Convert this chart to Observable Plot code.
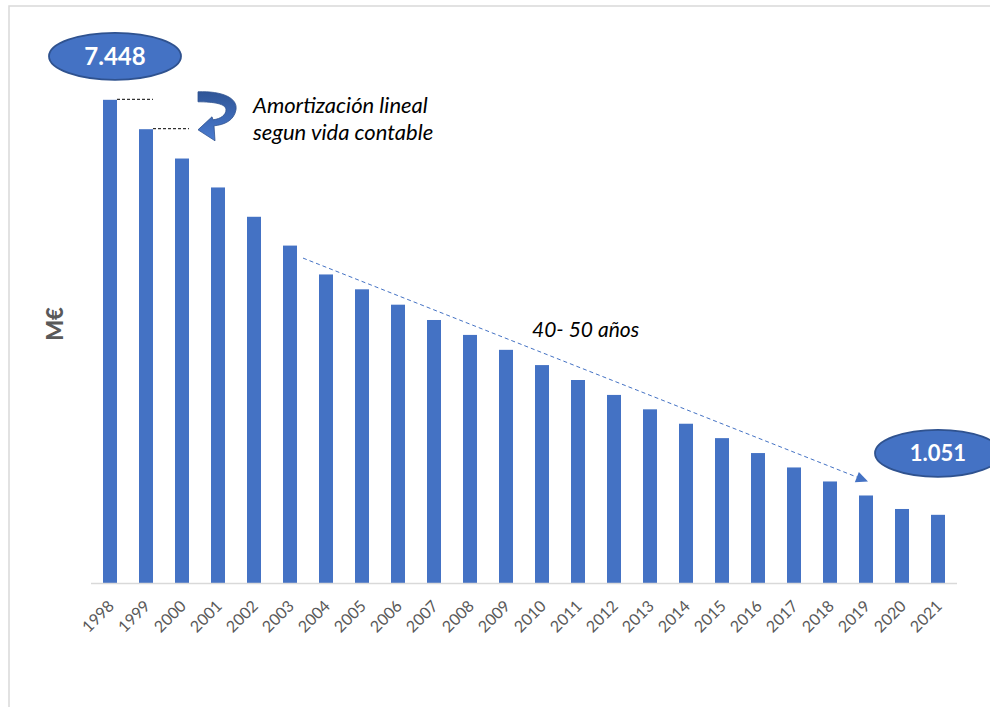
<!DOCTYPE html>
<html><head><meta charset="utf-8">
<script src="https://cdn.jsdelivr.net/npm/d3@7"></script>
<script src="https://cdn.jsdelivr.net/npm/@observablehq/plot@0.6"></script>
<style>
body{margin:0;background:#fff;}
#chart{position:relative;width:990px;height:707px;overflow:hidden;}
</style></head><body><div id="chart"></div>
<script>
const years = [1998,1999,2000,2001,2002,2003,2004,2005,2006,2007,2008,2009,2010,2011,2012,2013,2014,2015,2016,2017,2018,2019,2020,2021];
const values = [7448,6995,6543,6097,5645,5201,4756,4527,4290,4054,3824,3594,3359,3129,2899,2677,2455,2233,2003,1781,1565,1349,1141,1051];
const firstLabel = "7.448";
const lastLabel = "1.051";
const yLabel = "M€";
const noteLines = ["Amortización lineal", "segun vida contable"];
const spanNote = "40- 50 años";

const data = years.map((y, i) => ({year: String(y), value: values[i]}));

const plot = Plot.plot({
  width: 990, height: 707,
  marginLeft: 91, marginRight: 33, marginTop: 64, marginBottom: 124,
  style: {fontFamily: "Lato, 'Open Sans', sans-serif", background: "transparent", color: "#595959", overflow: "visible"},
  x: {type: "band", domain: years.map(String), paddingInner: 0.6, paddingOuter: 0.3, label: null},
  y: {domain: [0, 8000], axis: null},
  marks: [
    Plot.barY(data, {x: "year", y: "value", fill: "#4472C4"}),
    Plot.ruleY([0], {stroke: "#d9d9d9", strokeWidth: 1.5}),
    Plot.axisX({tickRotate: -45, tickSize: 0, tickPadding: 20, dx: 1, fontSize: 16, label: null}),
    Plot.text([yLabel], {frameAnchor: "left", textAnchor: "middle", dx: -36, rotate: -90, fontSize: 22, fontWeight: 900, fill: "#595959"})
  ]
});
document.getElementById("chart").appendChild(plot);

const sx = plot.scale("x"), sy = plot.scale("y");
const bw = sx.bandwidth;
const xc = yr => sx.apply(String(yr)) + bw / 2;
const yv = v => sy.apply(v);
const val = yr => values[years.indexOf(yr)];

const svg = d3.select(plot);
// border frame
svg.insert("rect", ":first-child")
  .attr("x", 9).attr("y", 6).attr("width", 1100).attr("height", 1000)
  .attr("fill", "none").attr("stroke", "#d9d9d9").attr("stroke-width", 1.5);

const g = svg.append("g").attr("text-anchor", "start");
const defs = svg.append("defs");
const grad = defs.append("linearGradient").attr("id", "arrGrad").attr("x1", 0).attr("y1", 0).attr("x2", 0).attr("y2", 1);
grad.append("stop").attr("offset", "0%").attr("stop-color", "#2F5597");
grad.append("stop").attr("offset", "100%").attr("stop-color", "#4A7BD0");

// black dashed markers from the first two bars
[1998, 1999].forEach(yr => {
  g.append("line")
    .attr("x1", xc(yr) + bw / 2).attr("x2", xc(yr) + 43)
    .attr("y1", yv(val(yr)) - 0.5).attr("y2", yv(val(yr)) - 0.5)
    .attr("stroke", "#000").attr("stroke-width", 1).attr("stroke-dasharray", "3,2");
});

// curved arrow
const ox = xc(1999) + 52, oy = yv(val(1998)) - 8;
g.append("path")
  .attr("transform", `translate(${ox},${oy})`)
  .attr("d", "M0,0 C24,-1 40,6 38,18 C36,29 26,33 16,34 L17,49 L0,38 L14,25 L15,28 C23,27 28,23 28,18 C28,12 16,10 0,10 Z")
  .attr("fill", "url(#arrGrad)").attr("stroke", "#2F528F").attr("stroke-width", 0.8);

// note text
const note = g.append("text")
  .attr("text-anchor", "start")
  .attr("font-family", "Lato, 'Open Sans', sans-serif")
  .attr("font-style", "italic").attr("font-size", 22).attr("fill", "#000");
noteLines.forEach((t, i) => {
  note.append("tspan").attr("x", xc(1999) + 107).attr("y", yv(val(1998)) + 13 + i * 27).text(t);
});

// dashed blue trend arrow
const x0 = xc(2003) + 13, y0 = yv(val(2003)) + 12.5;
const tx = xc(2019) + 2, ty = yv(val(2019)) - 14;
const dxl = tx - x0, dyl = ty - y0, L = Math.hypot(dxl, dyl);
const ux = dxl / L, uy = dyl / L, px = -uy, py = ux;
const bx = tx - 12 * ux, by = ty - 12 * uy;
g.append("line")
  .attr("x1", x0).attr("y1", y0).attr("x2", bx).attr("y2", by)
  .attr("stroke", "#4472C4").attr("stroke-width", 1).attr("stroke-dasharray", "4,3");
g.append("path")
  .attr("d", `M${tx},${ty} L${bx + 5.5 * px},${by + 5.5 * py} L${bx - 5.5 * px},${by - 5.5 * py} Z`)
  .attr("fill", "#4472C4");

g.append("text")
  .attr("text-anchor", "start")
  .attr("x", xc(2010) - 10).attr("y", yv(val(2008)) + 2)
  .attr("font-family", "Lato, 'Open Sans', sans-serif")
  .attr("font-style", "italic").attr("font-size", 21).attr("fill", "#000")
  .text(spanNote);

// value bubbles
function bubble(cx, cy, rx, ry, label, fs) {
  g.append("ellipse").attr("cx", cx).attr("cy", cy).attr("rx", rx).attr("ry", ry)
    .attr("fill", "#4472C4").attr("stroke", "#2F528F").attr("stroke-width", 1.8);
  g.append("text").attr("x", cx).attr("y", cy).attr("dy", "0.36em")
    .attr("text-anchor", "middle")
    .attr("font-family", "Lato, 'Open Sans', sans-serif")
    .attr("font-weight", "bold").attr("font-size", fs).attr("fill", "#fff")
    .text(label);
}
bubble(xc(1998) + 5, yv(val(1998)) - 43.5, 66, 23.5, firstLabel, 24);
bubble(xc(2021), yv(val(2021)) - 61.5, 63, 23.5, lastLabel, 22);
</script></body></html>
